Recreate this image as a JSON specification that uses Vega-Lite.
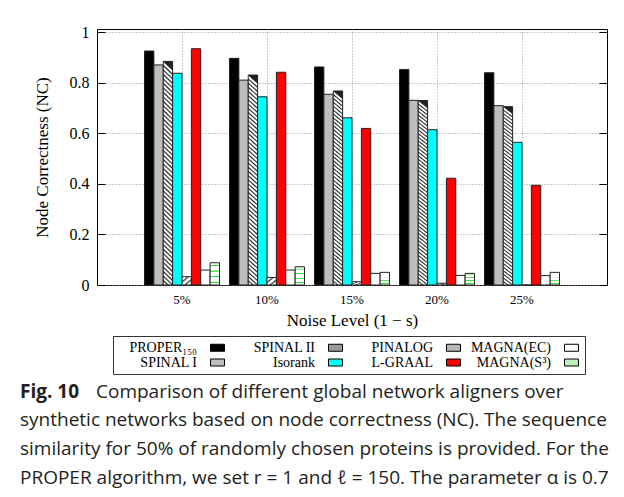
{
  "$schema": "https://vega.github.io/schema/vega-lite/v6.json",
  "background": "white",
  "autosize": {"type": "none"},
  "width": 510,
  "height": 256,
  "padding": {"left": 97, "top": 29, "right": 17, "bottom": 212},
  "data": {"values": [
    {"noise": "5%", "method": "PROPER₁₅₀", "nc": 0.925},
    {"noise": "5%", "method": "SPINAL I", "nc": 0.870},
    {"noise": "5%", "method": "SPINAL II", "nc": 0.884},
    {"noise": "5%", "method": "Isorank", "nc": 0.837},
    {"noise": "5%", "method": "PINALOG", "nc": 0.033},
    {"noise": "5%", "method": "L-GRAAL", "nc": 0.934},
    {"noise": "5%", "method": "MAGNA(EC)", "nc": 0.059},
    {"noise": "5%", "method": "MAGNA(S³)", "nc": 0.088},
    {"noise": "10%", "method": "PROPER₁₅₀", "nc": 0.896},
    {"noise": "10%", "method": "SPINAL I", "nc": 0.810},
    {"noise": "10%", "method": "SPINAL II", "nc": 0.830},
    {"noise": "10%", "method": "Isorank", "nc": 0.744},
    {"noise": "10%", "method": "PINALOG", "nc": 0.030},
    {"noise": "10%", "method": "L-GRAAL", "nc": 0.841},
    {"noise": "10%", "method": "MAGNA(EC)", "nc": 0.059},
    {"noise": "10%", "method": "MAGNA(S³)", "nc": 0.072},
    {"noise": "15%", "method": "PROPER₁₅₀", "nc": 0.862},
    {"noise": "15%", "method": "SPINAL I", "nc": 0.754},
    {"noise": "15%", "method": "SPINAL II", "nc": 0.767},
    {"noise": "15%", "method": "Isorank", "nc": 0.661},
    {"noise": "15%", "method": "PINALOG", "nc": 0.013},
    {"noise": "15%", "method": "L-GRAAL", "nc": 0.619},
    {"noise": "15%", "method": "MAGNA(EC)", "nc": 0.046},
    {"noise": "15%", "method": "MAGNA(S³)", "nc": 0.050},
    {"noise": "20%", "method": "PROPER₁₅₀", "nc": 0.852},
    {"noise": "20%", "method": "SPINAL I", "nc": 0.730},
    {"noise": "20%", "method": "SPINAL II", "nc": 0.729},
    {"noise": "20%", "method": "Isorank", "nc": 0.614},
    {"noise": "20%", "method": "PINALOG", "nc": 0.007},
    {"noise": "20%", "method": "L-GRAAL", "nc": 0.422},
    {"noise": "20%", "method": "MAGNA(EC)", "nc": 0.038},
    {"noise": "20%", "method": "MAGNA(S³)", "nc": 0.046},
    {"noise": "25%", "method": "PROPER₁₅₀", "nc": 0.839},
    {"noise": "25%", "method": "SPINAL I", "nc": 0.709},
    {"noise": "25%", "method": "SPINAL II", "nc": 0.705},
    {"noise": "25%", "method": "Isorank", "nc": 0.564},
    {"noise": "25%", "method": "PINALOG", "nc": 0.0},
    {"noise": "25%", "method": "L-GRAAL", "nc": 0.394},
    {"noise": "25%", "method": "MAGNA(EC)", "nc": 0.037},
    {"noise": "25%", "method": "MAGNA(S³)", "nc": 0.050}
  ]},
  "title": {
    "text": "Fig. 10",
    "subtitle": [
      "\u200d\u2003\u2003\u2003\u2003Comparison of different global network aligners over",
      "synthetic networks based on node correctness (NC). The sequence",
      "similarity for 50% of randomly chosen proteins is provided. For the",
      "PROPER algorithm, we set r = 1 and ℓ = 150. The parameter α is 0.7"
    ],
    "orient": "bottom",
    "anchor": "start",
    "frame": "bounds",
    "font": "Open Sans",
    "fontSize": 19,
    "fontWeight": "bold",
    "color": "#231f20",
    "subtitleFont": "Open Sans",
    "subtitleFontSize": 19,
    "subtitleColor": "#231f20",
    "subtitleLineHeight": 28.7,
    "subtitlePadding": -19,
    "offset": 8,
    "dx": -13
  },
  "resolve": {"axis": {"y": "independent"}},
  "layer": [
    {
      "mark": {"type": "bar", "stroke": "#222", "strokeWidth": 1},
      "encoding": {
        "x": {
          "field": "noise", "type": "nominal",
          "scale": {"domain": ["5%", "10%", "15%", "20%", "25%"], "paddingInner": 0.1176, "paddingOuter": 0.5588},
          "axis": {"title": "Noise Level (1 − s)", "labelAngle": 0, "ticks": false, "domain": false, "grid": true, "bandPosition": 0.5, "labelPadding": 8, "titlePadding": 6}
        },
        "xOffset": {
          "field": "method", "type": "nominal",
          "scale": {"domain": ["PROPER₁₅₀", "SPINAL I", "SPINAL II", "Isorank", "PINALOG", "L-GRAAL", "MAGNA(EC)", "MAGNA(S³)"], "paddingInner": 0, "paddingOuter": 0}
        },
        "y": {
          "field": "nc", "type": "quantitative",
          "scale": {"domain": [0, 1.012], "nice": false},
          "axis": {"title": "Node Correctness (NC)", "values": [0, 0.2, 0.4, 0.6, 0.8, 1], "format": "~g", "tickSize": -8, "labelPadding": 16, "domain": false, "grid": true, "titlePadding": 18, "labelFontSize": 16}
        },
        "fill": {
          "condition": [
            {"test": "datum.method === 'SPINAL II'", "value": {"gradient": "linear", "x1": 0.04, "y1": 0, "x2": 0, "y2": 1, "stops": [
              {"offset":0,"color":"#222"},{"offset":0.007,"color":"#fff"},{"offset":0.013,"color":"#fff"},
              {"offset":0.02,"color":"#222"},{"offset":0.027,"color":"#fff"},{"offset":0.033,"color":"#fff"},
              {"offset":0.04,"color":"#222"},{"offset":0.047,"color":"#fff"},{"offset":0.053,"color":"#fff"},
              {"offset":0.06,"color":"#222"},{"offset":0.067,"color":"#fff"},{"offset":0.073,"color":"#fff"},
              {"offset":0.08,"color":"#222"},{"offset":0.087,"color":"#fff"},{"offset":0.093,"color":"#fff"},
              {"offset":0.1,"color":"#222"},{"offset":0.107,"color":"#fff"},{"offset":0.113,"color":"#fff"},
              {"offset":0.12,"color":"#222"},{"offset":0.127,"color":"#fff"},{"offset":0.133,"color":"#fff"},
              {"offset":0.14,"color":"#222"},{"offset":0.147,"color":"#fff"},{"offset":0.153,"color":"#fff"},
              {"offset":0.16,"color":"#222"},{"offset":0.167,"color":"#fff"},{"offset":0.173,"color":"#fff"},
              {"offset":0.18,"color":"#222"},{"offset":0.187,"color":"#fff"},{"offset":0.193,"color":"#fff"},
              {"offset":0.2,"color":"#222"},{"offset":0.207,"color":"#fff"},{"offset":0.213,"color":"#fff"},
              {"offset":0.22,"color":"#222"},{"offset":0.227,"color":"#fff"},{"offset":0.233,"color":"#fff"},
              {"offset":0.24,"color":"#222"},{"offset":0.247,"color":"#fff"},{"offset":0.253,"color":"#fff"},
              {"offset":0.26,"color":"#222"},{"offset":0.267,"color":"#fff"},{"offset":0.273,"color":"#fff"},
              {"offset":0.28,"color":"#222"},{"offset":0.287,"color":"#fff"},{"offset":0.293,"color":"#fff"},
              {"offset":0.3,"color":"#222"},{"offset":0.307,"color":"#fff"},{"offset":0.313,"color":"#fff"},
              {"offset":0.32,"color":"#222"},{"offset":0.327,"color":"#fff"},{"offset":0.333,"color":"#fff"},
              {"offset":0.34,"color":"#222"},{"offset":0.347,"color":"#fff"},{"offset":0.353,"color":"#fff"},
              {"offset":0.36,"color":"#222"},{"offset":0.367,"color":"#fff"},{"offset":0.373,"color":"#fff"},
              {"offset":0.38,"color":"#222"},{"offset":0.387,"color":"#fff"},{"offset":0.393,"color":"#fff"},
              {"offset":0.4,"color":"#222"},{"offset":0.407,"color":"#fff"},{"offset":0.413,"color":"#fff"},
              {"offset":0.42,"color":"#222"},{"offset":0.427,"color":"#fff"},{"offset":0.433,"color":"#fff"},
              {"offset":0.44,"color":"#222"},{"offset":0.447,"color":"#fff"},{"offset":0.453,"color":"#fff"},
              {"offset":0.46,"color":"#222"},{"offset":0.467,"color":"#fff"},{"offset":0.473,"color":"#fff"},
              {"offset":0.48,"color":"#222"},{"offset":0.487,"color":"#fff"},{"offset":0.493,"color":"#fff"},
              {"offset":0.5,"color":"#222"},{"offset":0.507,"color":"#fff"},{"offset":0.513,"color":"#fff"},
              {"offset":0.52,"color":"#222"},{"offset":0.527,"color":"#fff"},{"offset":0.533,"color":"#fff"},
              {"offset":0.54,"color":"#222"},{"offset":0.547,"color":"#fff"},{"offset":0.553,"color":"#fff"},
              {"offset":0.56,"color":"#222"},{"offset":0.567,"color":"#fff"},{"offset":0.573,"color":"#fff"},
              {"offset":0.58,"color":"#222"},{"offset":0.587,"color":"#fff"},{"offset":0.593,"color":"#fff"},
              {"offset":0.6,"color":"#222"},{"offset":0.607,"color":"#fff"},{"offset":0.613,"color":"#fff"},
              {"offset":0.62,"color":"#222"},{"offset":0.627,"color":"#fff"},{"offset":0.633,"color":"#fff"},
              {"offset":0.64,"color":"#222"},{"offset":0.647,"color":"#fff"},{"offset":0.653,"color":"#fff"},
              {"offset":0.66,"color":"#222"},{"offset":0.667,"color":"#fff"},{"offset":0.673,"color":"#fff"},
              {"offset":0.68,"color":"#222"},{"offset":0.687,"color":"#fff"},{"offset":0.693,"color":"#fff"},
              {"offset":0.7,"color":"#222"},{"offset":0.707,"color":"#fff"},{"offset":0.713,"color":"#fff"},
              {"offset":0.72,"color":"#222"},{"offset":0.727,"color":"#fff"},{"offset":0.733,"color":"#fff"},
              {"offset":0.74,"color":"#222"},{"offset":0.747,"color":"#fff"},{"offset":0.753,"color":"#fff"},
              {"offset":0.76,"color":"#222"},{"offset":0.767,"color":"#fff"},{"offset":0.773,"color":"#fff"},
              {"offset":0.78,"color":"#222"},{"offset":0.787,"color":"#fff"},{"offset":0.793,"color":"#fff"},
              {"offset":0.8,"color":"#222"},{"offset":0.807,"color":"#fff"},{"offset":0.813,"color":"#fff"},
              {"offset":0.82,"color":"#222"},{"offset":0.827,"color":"#fff"},{"offset":0.833,"color":"#fff"},
              {"offset":0.84,"color":"#222"},{"offset":0.847,"color":"#fff"},{"offset":0.853,"color":"#fff"},
              {"offset":0.86,"color":"#222"},{"offset":0.867,"color":"#fff"},{"offset":0.873,"color":"#fff"},
              {"offset":0.88,"color":"#222"},{"offset":0.887,"color":"#fff"},{"offset":0.893,"color":"#fff"},
              {"offset":0.9,"color":"#222"},{"offset":0.907,"color":"#fff"},{"offset":0.913,"color":"#fff"},
              {"offset":0.92,"color":"#222"},{"offset":0.927,"color":"#fff"},{"offset":0.933,"color":"#fff"},
              {"offset":0.94,"color":"#222"},{"offset":0.947,"color":"#fff"},{"offset":0.953,"color":"#fff"},
              {"offset":0.96,"color":"#222"},{"offset":0.967,"color":"#fff"},{"offset":0.973,"color":"#fff"},
              {"offset":0.98,"color":"#222"},{"offset":0.987,"color":"#fff"},{"offset":0.993,"color":"#fff"},
              {"offset":1,"color":"#222"}
            ]}},
            {"test": "datum.method === 'PINALOG'", "value": {"gradient": "linear", "x1": 0, "y1": 0, "x2": 1, "y2": 1, "stops": [
              {"offset":0,"color":"#333"},{"offset":0.1,"color":"#fff"},{"offset":0.233,"color":"#fff"},
              {"offset":0.333,"color":"#333"},{"offset":0.433,"color":"#fff"},{"offset":0.567,"color":"#fff"},
              {"offset":0.667,"color":"#333"},{"offset":0.767,"color":"#fff"},{"offset":0.9,"color":"#fff"},
              {"offset":1,"color":"#333"}
            ]}},
            {"test": "datum.method === 'MAGNA(S³)'", "value": {"gradient": "linear", "x1": 0, "y1": 0, "x2": 0, "y2": 1, "stops": [
              {"offset":0,"color":"#fff"},{"offset":0.09,"color":"#fff"},{"offset":0.11,"color":"#33dd33"},{"offset":0.14,"color":"#33dd33"},{"offset":0.16,"color":"#fff"},
              {"offset":0.34,"color":"#fff"},{"offset":0.36,"color":"#33dd33"},{"offset":0.39,"color":"#33dd33"},{"offset":0.41,"color":"#fff"},
              {"offset":0.59,"color":"#fff"},{"offset":0.61,"color":"#33dd33"},{"offset":0.64,"color":"#33dd33"},{"offset":0.66,"color":"#fff"},
              {"offset":0.84,"color":"#fff"},{"offset":0.86,"color":"#33dd33"},{"offset":0.89,"color":"#33dd33"},{"offset":0.91,"color":"#fff"},
              {"offset":1,"color":"#fff"}
            ]}}
          ],
          "field": "method", "type": "nominal",
          "scale": {
            "domain": ["PROPER₁₅₀", "SPINAL II", "PINALOG", "MAGNA(EC)", "SPINAL I", "Isorank", "L-GRAAL", "MAGNA(S³)"],
            "range": ["#000000", "#9a9a9a", "#b8b8b8", "#ffffff", "#bdbdbd", "#00ffff", "#ff0000", "#bfeebf"]
          },
          "legend": {
            "title": null,
            "orient": "none",
            "legendX": 16,
            "legendY": 307,
            "columns": 4,
            "direction": "horizontal",
            "strokeColor": "#333",
            "fillColor": "#ffffff",
            "padding": 4,
            "labelFont": "Liberation Serif",
            "labelFontSize": 14,
            "labelColor": "#000",
            "symbolType": "M-1,-0.5H1V0.5H-1Z",
            "symbolSize": 196,
            "symbolStrokeColor": "#000",
            "symbolStrokeWidth": 1,
            "symbolOpacity": 1,
            "symbolOffset": 93,
            "labelAlign": "right",
            "labelOffset": -28,
            "rowPadding": 0,
            "columnPadding": 7,
            "gridAlign": "all",
            "labelLimit": 200
          }
        }
      }
    },
    {
      "mark": {"type": "point", "opacity": 0},
      "encoding": {
        "y": {
          "field": "nc", "type": "quantitative",
          "axis": {"orient": "right", "labels": false, "title": null, "grid": false, "domain": false, "tickSize": -8, "values": [0, 0.2, 0.4, 0.6, 0.8, 1]}
        }
      }
    }
  ],
  "config": {
    "view": {"stroke": "#000", "strokeWidth": 1},
    "axis": {
      "labelFont": "Liberation Serif",
      "labelFontSize": 13,
      "labelColor": "#000",
      "titleFont": "Liberation Serif",
      "titleFontSize": 17,
      "titleFontWeight": "normal",
      "titleColor": "#000",
      "tickColor": "#000",
      "gridColor": "#999",
      "gridDash": [1, 2],
      "gridWidth": 1
    }
  }
}
